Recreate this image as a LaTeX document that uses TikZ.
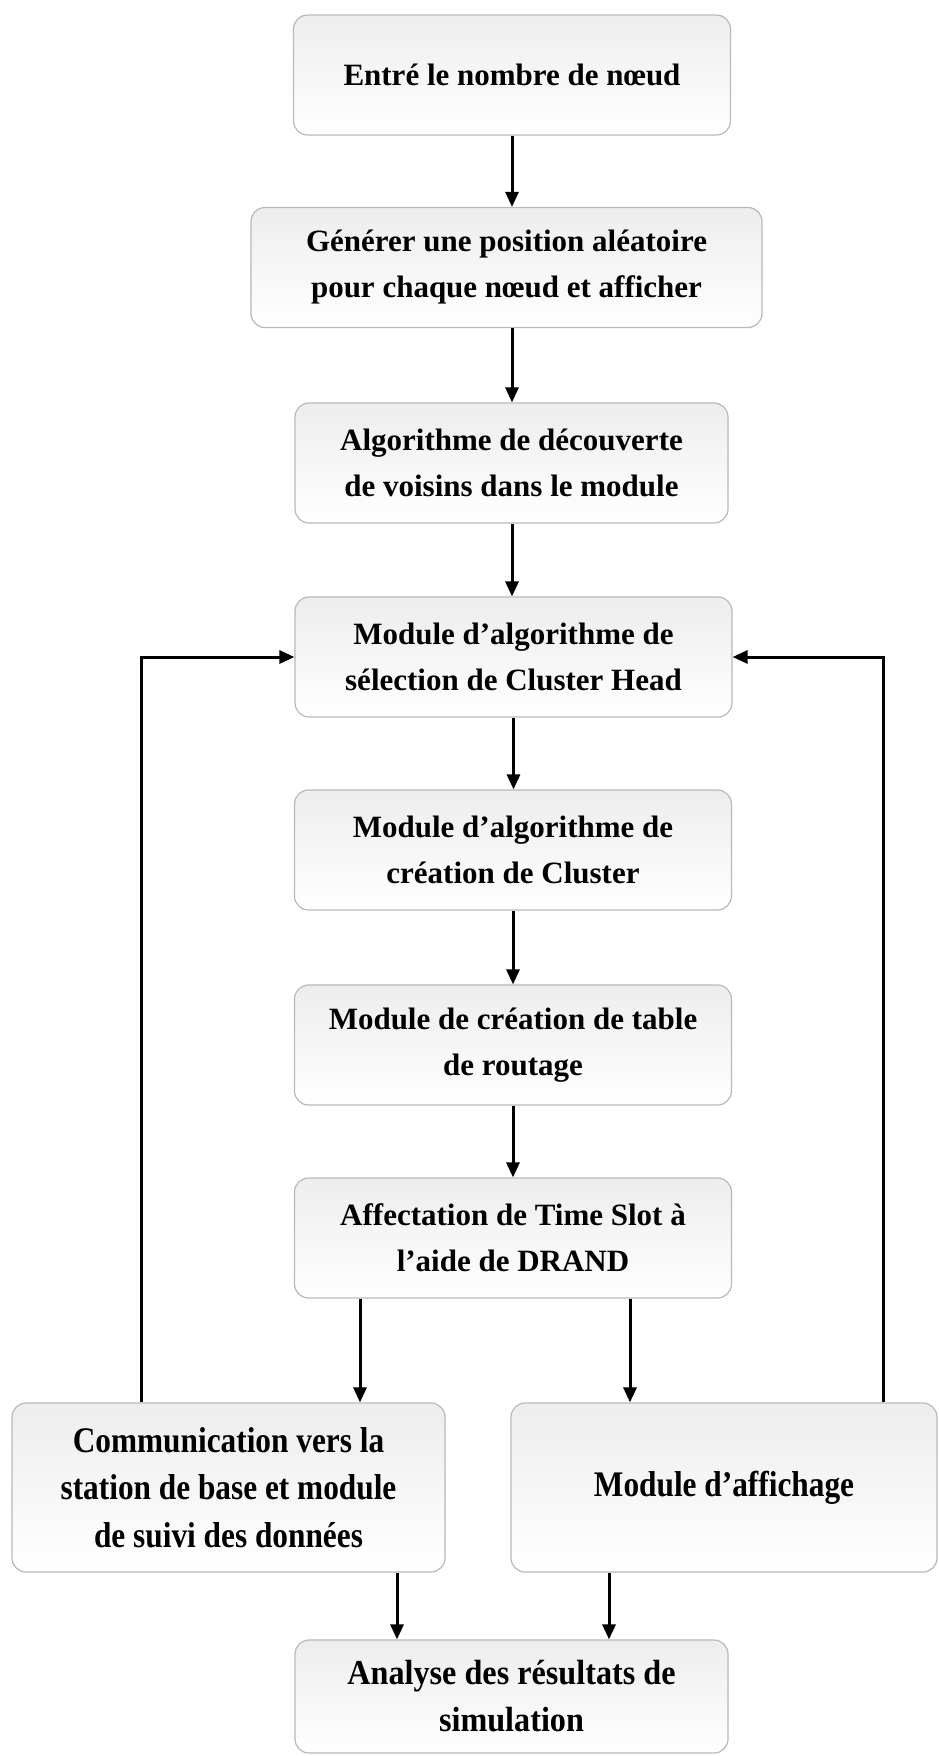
\documentclass[tikz,border=0pt]{standalone}
\usepackage{fontspec}
\setmainfont{Liberation Serif}
\newfontfamily\narrowserif{Liberation Serif}[FakeStretch=0.87]
\newfontfamily\midserif{Liberation Serif}[FakeStretch=0.92]
\usetikzlibrary{arrows.meta,calc}

\begin{document}
\begin{tikzpicture}[x=1pt,y=-1pt,
  stepbox/.style={draw=gray!55, line width=1.2pt, rounded corners=14pt,
    top color=gray!14, bottom color=white, minimum width=437pt,
    minimum height=120pt, align=center, inner sep=0pt,
    font=\fontsize{31}{46}\selectfont\bfseries},
  arr/.style={line width=3pt, -{Triangle[length=15pt,width=13pt]}},
  feed/.style={line width=3pt, -{Triangle[length=15pt,width=13pt]}, rounded corners=0pt}]

\useasboundingbox (0,0) rectangle (938,1756);

% main column of processing steps
\node[stepbox] (n1) at (512,75) {Entré le nombre de nœud};
\node[stepbox, minimum width=511pt] (n2) at (506.5,267.5)
  {Générer une position aléatoire\\pour chaque nœud et afficher};
\node[stepbox, minimum width=433pt] (n3) at (511.5,463)
  {Algorithme de découverte\\de voisins dans le module};
\node[stepbox] (n4) at (513.5,657)
  {Module d’algorithme de\\sélection de Cluster Head};
\node[stepbox] (n5) at (513,850)
  {Module d’algorithme de\\création de Cluster};
\node[stepbox] (n6) at (513,1045)
  {Module de création de table\\de routage};
\node[stepbox] (n7) at (513,1238)
  {Affectation de Time Slot à\\l’aide de DRAND};

% two parallel branches
\node[stepbox, minimum width=433pt, minimum height=169pt,
  font=\narrowserif\fontsize{36}{47.5}\selectfont\bfseries] (nl) at (228.5,1487.5)
  {Communication vers la\\station de base et module\\de suivi des données};
\node[stepbox, minimum width=426pt, minimum height=169pt,
  font=\narrowserif\fontsize{36}{47.5}\selectfont\bfseries] (nr) at (724,1487.5)
  {Module d’affichage};

% final analysis
\node[stepbox, minimum width=433pt, minimum height=113pt,
  font=\midserif\fontsize{35}{47}\selectfont\bfseries] (nb) at (511.5,1696.5)
  {Analyse des résultats de\\simulation};

% vertical flow
\draw[arr] (n1.south) -- (n1.south |- n2.north);
\draw[arr] (n2.south -| n1.south) -- (n3.north -| n1.south);
\draw[arr] (n3.south -| n1.south) -- (n4.north -| n1.south);
\draw[arr] (n4.south) -- (n4.south |- n5.north);
\draw[arr] (n5.south) -- (n5.south |- n6.north);
\draw[arr] (n6.south) -- (n6.south |- n7.north);

% split into the two branches
\draw[arr] ([xshift=-153pt]n7.south) -- ([xshift=-153pt]n7.south |- nl.north);
\draw[arr] ([xshift=117pt]n7.south) -- ([xshift=117pt]n7.south |- nr.north);

% merge into the analysis
\draw[arr] ([xshift=-114.5pt]nb.north |- nl.south) -- ([xshift=-114.5pt]nb.north);
\draw[arr] ([xshift=97.5pt]nb.north |- nr.south) -- ([xshift=97.5pt]nb.north);

% feedback loops to cluster head selection
\draw[feed] ([xshift=-87.5pt]nl.north) |- (n4.west);
\draw[feed] ([xshift=159pt]nr.north) |- (n4.east);

\end{tikzpicture}
\end{document}
